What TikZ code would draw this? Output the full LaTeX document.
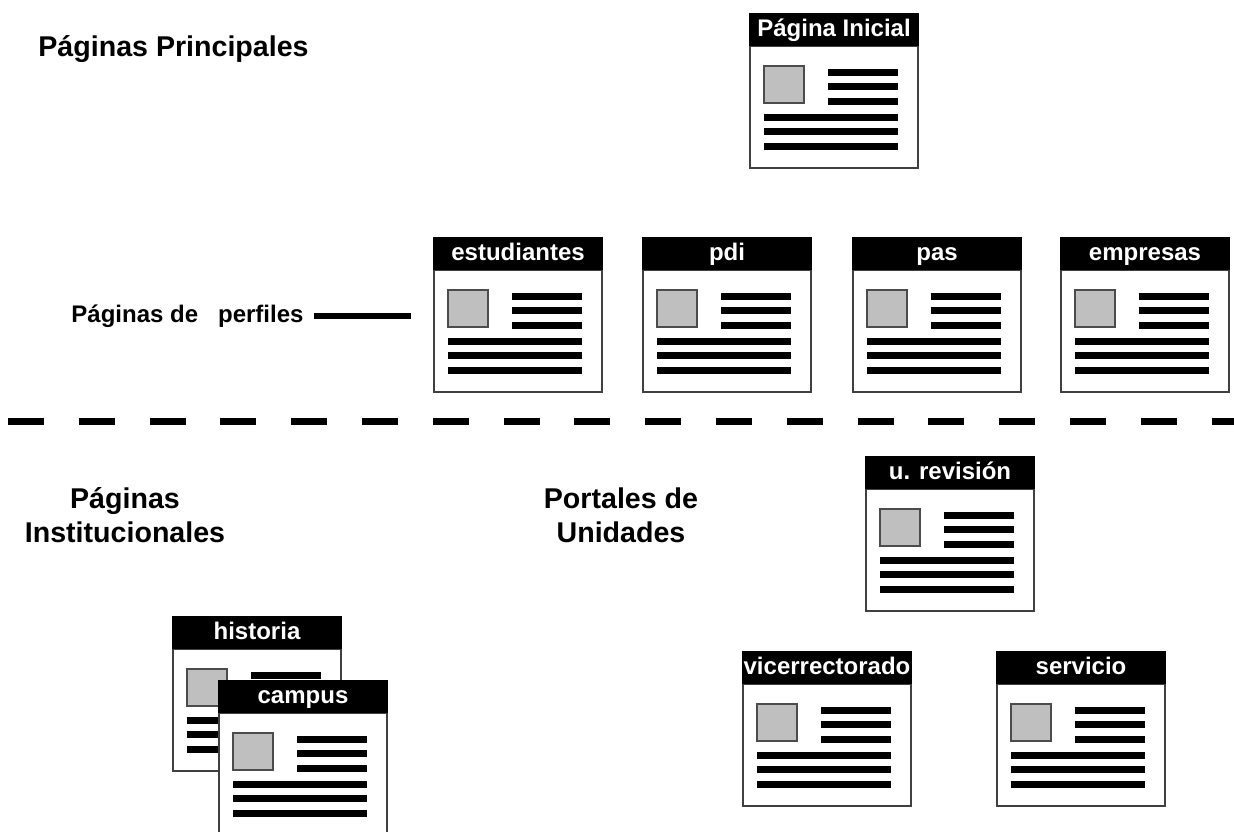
\documentclass[tikz,border=0pt]{standalone}
\usepackage{fontspec}
\setmainfont{Liberation Sans}
\usepackage{tikz}
\usepackage{xcolor}
\usetikzlibrary{positioning}

\tikzset{
  barra/.style={line width=3.5pt},
  marco/.style={draw=black!75,line width=0.8pt,fill=white},
  foto/.style={draw=black!70,line width=0.6pt,fill=black!25},
  rotulo/.style={text=white,font=\bfseries\fontsize{12}{14}\selectfont,inner sep=0pt,anchor=base},
  titulo/.style={font=\bfseries\fontsize{14.3}{16.8}\selectfont,align=center,inner sep=0pt},
  pics/pagina/.style={code={
    \filldraw[marco] (1,33) rectangle (169,155);
    \fill[black] (0,0) rectangle (170,33);
    \filldraw[foto] (15,53) rectangle (55,90);
    \foreach \y in {59,73,88} \draw[barra] (79,\y) -- (149,\y);
    \foreach \y in {104,118,133} \draw[barra] (15,\y) -- (149,\y);
    \node[rotulo] (-rotulo) at (85,23.5) {#1};
  }}
}

\begin{document}
\begin{tikzpicture}[x=0.5pt,y=-0.5pt]
\useasboundingbox (0,0) rectangle (1234,831);

\node[titulo,anchor=base west] (principales) at (38,56) {Páginas Principales};
\pic (ini) at (749,13) {pagina=Página Inicial};

% perfiles
\node[font=\bfseries\fontsize{12}{14}\selectfont,inner sep=0pt,anchor=base west] (perfiles) at (71,322) {Páginas de\ \ \ perfiles};
\coordinate (perfilfin) at (411,316);
\draw[line width=3pt] (perfilfin -| perfiles.east) ++(10.5,0) -- (perfilfin);
\pic (est) at (433,237) {pagina=estudiantes};
\pic (pdi) at (642,237) {pagina=pdi};
\pic (pas) at (852,237) {pagina=pas};
\pic (emp) at (1060,237) {pagina=empresas};

\coordinate (sepizq) at (8,421.5);
\coordinate (sepder) at (1234,421.5);
\draw[line width=3.5pt,dash pattern=on 18pt off 17.4pt] (sepizq) -- (sepder);

\node[titulo] (institucionales) at (125,515) {Páginas\\Institucionales};
\node[titulo] (unidades) at (621,515) {Portales de\\Unidades};

\pic (his) at (172,616) {pagina=historia};
\pic (cam) at (218,680) {pagina=campus};

\pic (rev) at (865,456) {pagina=u. revisión};
\pic (vic) at (742,651) {pagina=vicerrectorado};
\pic (ser) at (996,651) {pagina=servicio};
\end{tikzpicture}
\end{document}
